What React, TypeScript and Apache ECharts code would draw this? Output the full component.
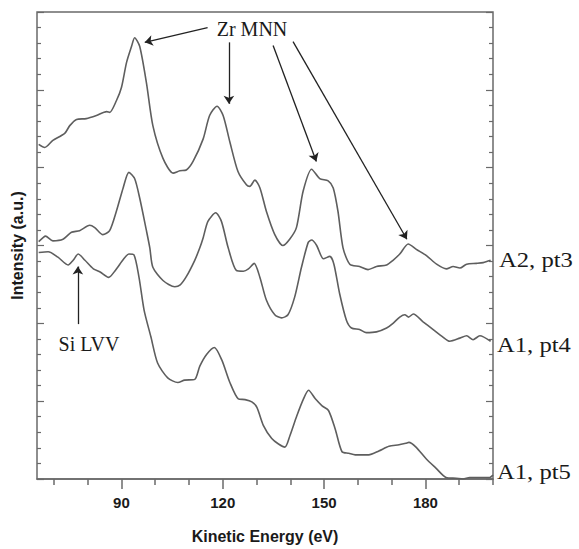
import { useEffect, useRef } from "react";
import * as echarts from "echarts";

// Kinetic energy (eV) axis
const energyMajorTicks = [90, 120, 150, 180];
const energyMinorTicks = [70, 80, 100, 110, 130, 140, 160, 170, 190, 200];

// Spectra: [kinetic energy (eV), intensity (a.u., offset)]
const a2pt3: [number, number][] = [
  [65.5, 43.0], [67.3, 42.6], [69.7, 43.5], [73.2, 44.4], [74.7, 45.4], [76.7, 46.2],
  [79.6, 46.3], [82.6, 46.7], [85.6, 47.2], [86.5, 47.1], [88.5, 48.6], [90.0, 50.3],
  [91.5, 53.5], [93.0, 55.6], [93.9, 56.7], [95.4, 55.6], [97.4, 50.9], [99.3, 45.4],
  [102.3, 41.2], [105.3, 39.3], [107.3, 39.6], [109.2, 39.7], [111.2, 40.8], [114.2, 43.7],
  [116.1, 46.7], [118.3, 47.9], [120.1, 46.7], [122.1, 43.3], [124.5, 39.5], [127.0, 37.8],
  [128.0, 37.6], [129.5, 38.4], [131.0, 37.4], [132.9, 34.4], [135.4, 31.4], [137.8, 30.0],
  [139.8, 30.8], [141.8, 32.3], [143.8, 37.0], [146.3, 39.8], [148.7, 38.6], [151.2, 38.3],
  [152.7, 37.4], [154.1, 34.4], [155.6, 29.7], [157.6, 27.6], [160.5, 27.3], [163.0, 26.9],
  [165.5, 27.3], [168.5, 27.5], [170.4, 28.1], [172.4, 28.9], [174.9, 30.2], [177.3, 29.5],
  [180.3, 28.7], [183.3, 27.6], [186.2, 27.0], [188.2, 27.3], [190.2, 27.1], [192.2, 27.6],
  [195.1, 27.7], [197.1, 27.8], [199.3, 28.1],
];

const a1pt4: [number, number][] = [
  [65.5, 30.5], [66.8, 31.0], [67.5, 31.2], [69.7, 30.6], [72.7, 30.8], [75.2, 31.7],
  [77.6, 31.9], [80.6, 32.6], [82.1, 32.3], [84.5, 31.4], [86.5, 31.9], [88.5, 34.4],
  [90.5, 37.4], [92.2, 39.4], [93.9, 38.6], [95.4, 36.1], [97.4, 31.9], [98.4, 29.7],
  [99.3, 27.2], [102.3, 25.5], [105.8, 24.7], [107.3, 24.9], [109.2, 26.0], [111.7, 28.1],
  [113.2, 29.7], [114.2, 31.0], [115.6, 33.1], [117.9, 34.2], [119.6, 33.1], [121.6, 29.7],
  [124.0, 26.8], [126.1, 26.7], [127.6, 27.0], [129.3, 27.7], [131.0, 25.9], [132.9, 23.0],
  [135.4, 21.1], [137.4, 20.7], [139.3, 21.1], [141.3, 23.4], [143.3, 27.2], [145.3, 30.4],
  [146.3, 30.7], [147.8, 30.0], [149.8, 28.3], [151.7, 28.6], [152.9, 27.6], [154.6, 23.8],
  [156.6, 20.4], [158.1, 19.4], [160.5, 19.2], [162.5, 18.8], [165.5, 18.9], [168.5, 19.4],
  [170.4, 20.0], [172.4, 20.8], [173.9, 21.1], [175.0, 20.8], [176.4, 21.2], [179.3, 20.2],
  [182.3, 19.2], [185.0, 18.3], [187.2, 17.7], [190.2, 18.1], [192.2, 18.4], [194.1, 17.9],
  [196.1, 18.4], [199.3, 17.7],
];

const a1pt5: [number, number][] = [
  [65.5, 29.1], [68.3, 29.2], [71.2, 28.5], [74.2, 27.5], [75.7, 28.1], [77.2, 28.9],
  [79.2, 28.1], [81.7, 27.0], [83.7, 26.6], [86.2, 25.9], [88.2, 26.8], [90.7, 28.3],
  [92.2, 28.9], [93.7, 28.8], [95.2, 25.9], [96.7, 21.7], [98.7, 18.3], [100.7, 14.9],
  [103.7, 13.0], [106.7, 12.4], [108.7, 12.7], [111.7, 12.8], [113.2, 14.5], [115.2, 16.0],
  [117.5, 16.9], [119.7, 15.3], [122.1, 12.4], [124.6, 10.3], [126.6, 10.2], [128.6, 9.9],
  [130.1, 9.2], [132.0, 6.9], [134.5, 5.2], [136.5, 4.5], [138.4, 4.1], [139.9, 5.6],
  [141.9, 8.1], [143.9, 10.3], [145.4, 11.4], [147.4, 10.3], [149.4, 9.4], [151.3, 8.8],
  [153.3, 6.4], [155.3, 3.5], [157.3, 3.3], [159.2, 3.1], [161.2, 3.1], [163.2, 3.1],
  [166.2, 3.6], [169.2, 4.2], [172.2, 4.4], [174.2, 4.6], [175.1, 4.7], [177.2, 4.1],
  [180.2, 2.6], [183.1, 1.4], [186.1, 0.2], [189.1, 0.1], [191.1, 0.0], [193.1, 0.2],
  [196.1, 0.2], [199.0, 0.2], [200.0, 0.5],
];

const seriesNames = ["A2, pt3", "A1, pt4", "A1, pt5"];

// Annotation arrows in data coordinates: [start, end]
const zrArrows: [number, number][][] = [
  [[115.5, 58.0], [96.9, 56.1]],
  [[121.9, 56.1], [121.8, 48.2]],
  [[134.9, 55.7], [147.7, 40.8]],
  [[140.8, 56.2], [174.5, 30.8]],
];
const siArrow: [number, number][] = [[77.1, 19.9], [77.1, 27.3]];

export default function App() {
  const ref = useRef<HTMLDivElement>(null);

  useEffect(() => {
    if (!ref.current) return;
    const chart = echarts.init(ref.current, null, { renderer: "svg" });
    const axisColor = "#6a6a6a";
    const curveColor = "#5e5e5e";
    const sans = "'Liberation Sans', Arial, sans-serif";
    const serif = "'Liberation Serif', 'Times New Roman', serif";

    const yAxisCommon = {
      type: "value" as const,
      min: 0,
      max: 60,
      interval: 10,
      axisLine: { show: false },
      axisTick: { show: true, inside: true, length: 7, lineStyle: { color: axisColor, width: 1.2 } },
      minorTick: { show: true, splitNumber: 5, length: 4, lineStyle: { color: axisColor, width: 1.2 } },
      axisLabel: { show: false },
      splitLine: { show: false },
    };

    const arrowLines = [...zrArrows, siArrow].map((a) => [
      { coord: a[0] },
      { coord: a[1] },
    ]);

    const curve = (name: string, data: [number, number][]) => ({
      name,
      type: "line" as const,
      data,
      showSymbol: false,
      smooth: 0.25,
      lineStyle: { color: curveColor, width: 1.6 },
    });

    chart.setOption({
      animation: false,
      grid: {
        left: 37,
        right: 86,
        top: 12,
        bottom: 65,
        show: true,
        borderColor: axisColor,
        borderWidth: 1.5,
        backgroundColor: "transparent",
      },
      xAxis: [
        {
          type: "value",
          min: 65,
          max: 200,
          position: "bottom",
          axisLine: { show: true, lineStyle: { color: axisColor, width: 1.5 } },
          axisTick: {
            show: true,
            length: 10,
            customValues: energyMajorTicks,
            lineStyle: { color: axisColor, width: 1.5 },
          },
          axisLabel: {
            show: true,
            customValues: energyMajorTicks,
            margin: 16,
            fontFamily: sans,
            fontWeight: "bold",
            fontSize: 15,
            color: "#1a1a1a",
          },
          splitLine: { show: false },
          name: "Kinetic Energy (eV)",
          nameLocation: "middle",
          nameGap: 49,
          nameTextStyle: { fontFamily: sans, fontWeight: "bold", fontSize: 16, color: "#1a1a1a" },
        },
        {
          type: "value",
          min: 65,
          max: 200,
          position: "bottom",
          axisLine: { show: false },
          axisTick: {
            show: true,
            length: 6,
            customValues: energyMinorTicks,
            lineStyle: { color: axisColor, width: 1.5 },
          },
          axisLabel: { show: false },
          splitLine: { show: false },
        },
      ],
      yAxis: [
        {
          ...yAxisCommon,
          position: "left",
          name: "Intensity (a.u.)",
          nameLocation: "middle",
          nameGap: 12,
          nameTextStyle: { fontFamily: sans, fontWeight: "bold", fontSize: 16, color: "#1a1a1a" },
        },
        { ...yAxisCommon, position: "right" },
      ],
      series: [
        {
          ...curve(seriesNames[0], a2pt3),
          markLine: {
            silent: true,
            symbol: ["none", "arrow"],
            symbolSize: 8,
            label: { show: false },
            lineStyle: { color: "#222", width: 1.3, type: "solid" },
            data: arrowLines,
          },
        },
        curve(seriesNames[1], a1pt4),
        curve(seriesNames[2], a1pt5),
      ],
      graphic: [
        {
          type: "text",
          x: 252,
          y: 29,
          style: { text: "Zr MNN", font: `20px ${serif}`, fill: "#1a1a1a", align: "center", verticalAlign: "middle" },
        },
        {
          type: "text",
          x: 89,
          y: 344,
          style: { text: "Si LVV", font: `20px ${serif}`, fill: "#1a1a1a", align: "center", verticalAlign: "middle" },
        },
        {
          type: "text",
          x: 499,
          y: 259,
          scaleX: 1.12,
          style: { text: seriesNames[0], font: `22px ${serif}`, fill: "#1a1a1a", align: "left", verticalAlign: "middle" },
        },
        {
          type: "text",
          x: 497,
          y: 344,
          scaleX: 1.12,
          style: { text: seriesNames[1], font: `22px ${serif}`, fill: "#1a1a1a", align: "left", verticalAlign: "middle" },
        },
        {
          type: "text",
          x: 497,
          y: 471,
          scaleX: 1.12,
          style: { text: seriesNames[2], font: `22px ${serif}`, fill: "#1a1a1a", align: "left", verticalAlign: "middle" },
        },
      ],
    });

    return () => chart.dispose();
  }, []);

  return (
    <div
      ref={ref}
      style={{ position: "fixed", left: 0, top: 0, width: 579, height: 549, background: "#fff" }}
    />
  );
}
